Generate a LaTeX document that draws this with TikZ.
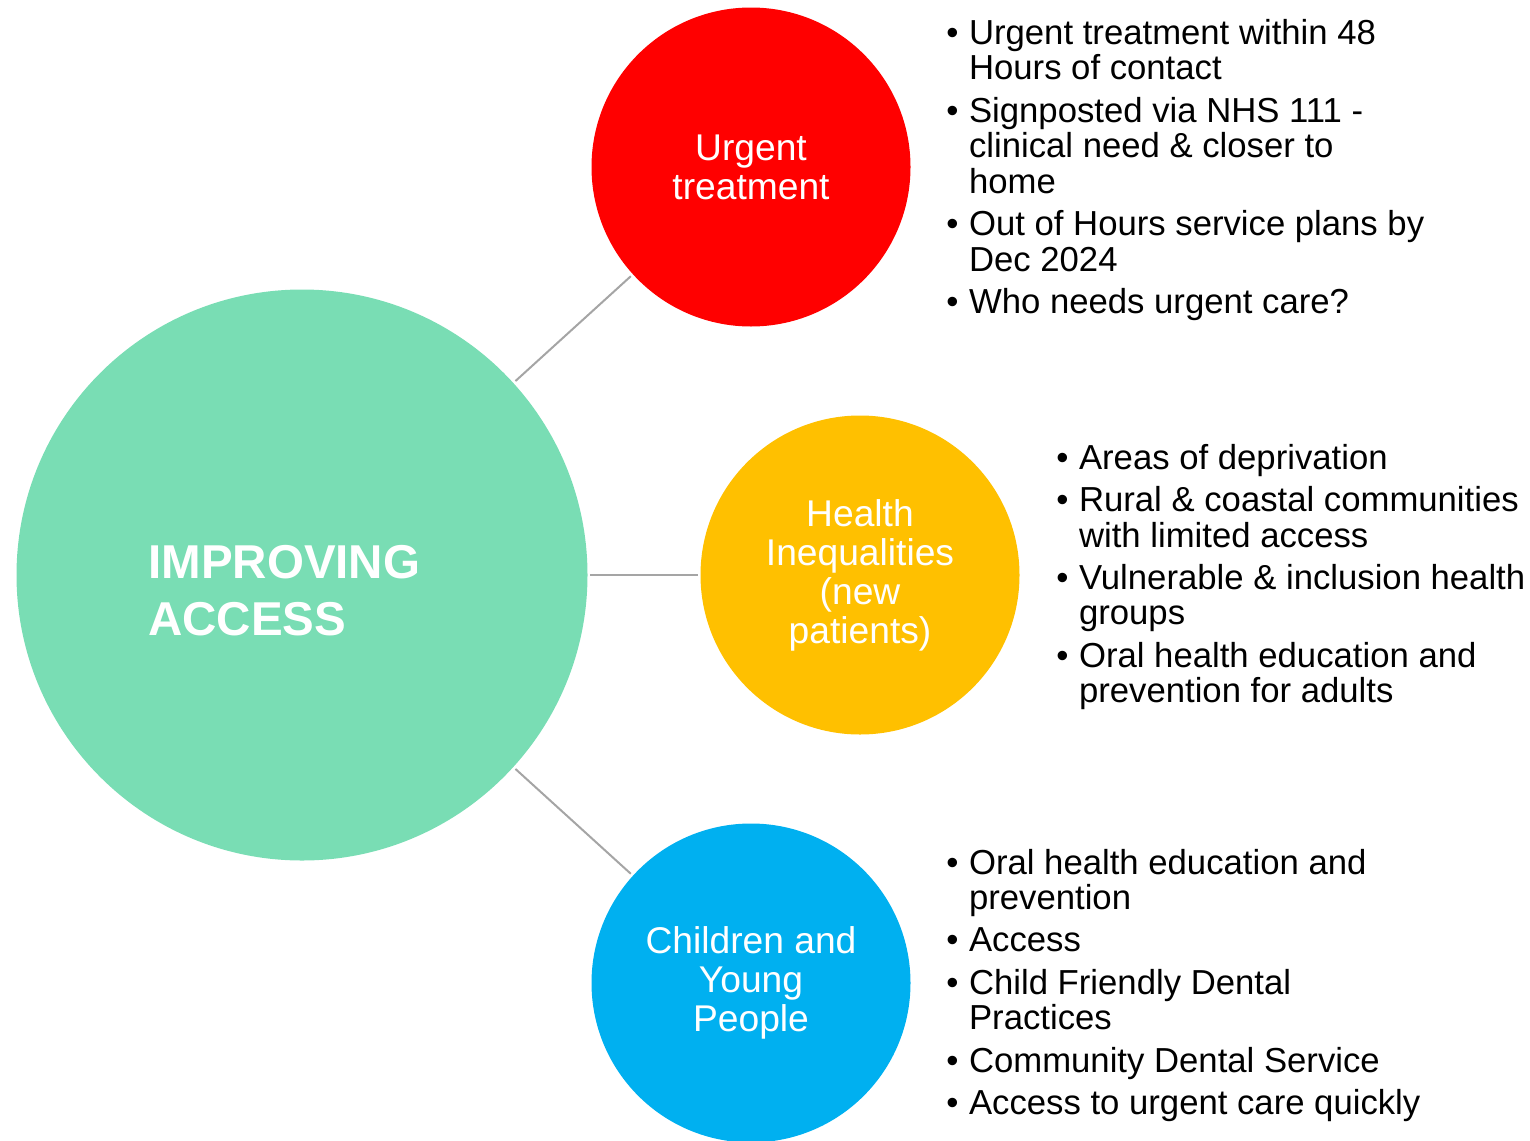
\documentclass[tikz,border=0pt]{standalone}
\usepackage{fontspec}
\setmainfont{Liberation Sans}

\definecolor{hubgreen}{RGB}{121,221,180}
\definecolor{urgentred}{RGB}{255,0,0}
\definecolor{healthgold}{RGB}{255,192,0}
\definecolor{youngblue}{RGB}{0,176,240}
\definecolor{linkgray}{RGB}{165,165,165}

\begin{document}
\begin{tikzpicture}[x=.5pt,y=-.5pt,
  topic/.style={circle,minimum size=159.5pt,inner sep=0pt,text=white,align=center,font=\fontsize{18.6pt}{19.5pt}\selectfont},
  notes/.style={anchor=base west,inner sep=0pt,font=\fontsize{17.35pt}{17.75pt}\selectfont},
  link/.style={draw=linkgray,line width=1pt,shorten <=1.25pt,shorten >=1.25pt}]
\useasboundingbox (0,0) rectangle (1530,1140);
\node[circle,fill=hubgreen,minimum size=285.5pt,inner sep=0pt] (hub) at (302,575) {};
\node[anchor=west,inner sep=0pt,text=white,align=left,font=\fontsize{23.75pt}{28.5pt}\selectfont\bfseries] (title) at (148,591) {IMPROVING\\ACCESS};
\node[topic,fill=urgentred] (urgent) at (751,167) {Urgent\\treatment};
\node[topic,fill=healthgold] (health) at (860,575) {Health\\Inequalities\\(new\\patients)};
\node[topic,fill=youngblue] (young) at (751,983) {Children and\\Young\\People};
\foreach \t in {urgent,health,young} \draw[link] (hub) -- (\t);
% bullet lists
\node[notes] (urgentnotes) at (946,44) {\begin{tabular}[t]{@{}l@{\hspace{5.25pt}}l@{}}
• & Urgent treatment within 48\\ & Hours of contact\\[3.25pt]
• & Signposted via NHS 111 -\\ & clinical need \& closer to\\ & home\\[3.25pt]
• & Out of Hours service plans by\\ & Dec 2024\\[3.25pt]
• & Who needs urgent care?
\end{tabular}};
\node[notes] (healthnotes) at (1056,469) {\begin{tabular}[t]{@{}l@{\hspace{5.25pt}}l@{}}
• & Areas of deprivation\\[3.25pt]
• & Rural \& coastal communities\\ & with limited access\\[3.25pt]
• & Vulnerable \& inclusion health\\ & groups\\[3.25pt]
• & Oral health education and\\ & prevention for adults
\end{tabular}};
\node[notes] (youngnotes) at (946,874) {\begin{tabular}[t]{@{}l@{\hspace{5.25pt}}l@{}}
• & Oral health education and\\ & prevention\\[3.25pt]
• & Access\\[3.25pt]
• & Child Friendly Dental\\ & Practices\\[3.25pt]
• & Community Dental Service\\[3.25pt]
• & Access to urgent care quickly
\end{tabular}};
\end{tikzpicture}
\end{document}
